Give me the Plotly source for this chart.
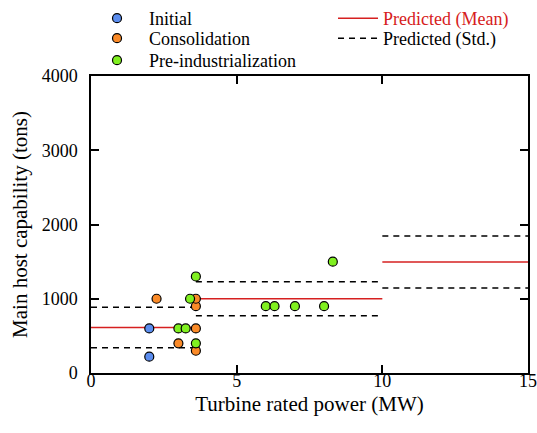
import plotly.graph_objects as go

# ---- data ----
initial_x = [2.0, 2.0]
initial_y = [600, 220]
consol_x = [2.25, 3.0, 3.6, 3.6, 3.6, 3.6]
consol_y = [1000, 400, 600, 900, 1000, 300]
preind_x = [3.0, 3.25, 3.4, 3.6, 3.6, 6.0, 6.3, 7.0, 8.0, 8.3]
preind_y = [600, 600, 1000, 1300, 400, 900, 900, 900, 900, 1500]

seg_start = [0, 3.6, 10]
seg_end = [3.6, 10, 15]
pred_mean = [612, 1000, 1495]
pred_std = [272, 230, 350]

# ---- build segment paths ----
mx, my = [], []
sx, sy = [], []
for a, b, m, s in zip(seg_start, seg_end, pred_mean, pred_std):
    mx += [a, b, None]
    my += [m, m, None]
    sx += [a, b, None, a, b, None]
    sy += [m + s, m + s, None, m - s, m - s, None]

RED = "#d62020"
FONT = "Liberation Serif, Times New Roman, serif"

fig = go.Figure()
fig.add_trace(go.Scatter(x=mx, y=my, mode="lines", name=f"<span style='color:{RED}'>Predicted (Mean)</span>",
                         line=dict(color=RED, width=1.5), legend="legend4"))
fig.add_trace(go.Scatter(x=sx, y=sy, mode="lines", name="Predicted (Std.)",
                         line=dict(color="black", width=1.5, dash="6px,5px"), legend="legend5"))

mk = dict(size=9, line=dict(color="black", width=1.2))
fig.add_trace(go.Scatter(x=initial_x, y=initial_y, mode="markers", name="Initial",
                         marker=dict(color="#5b8def", **mk), legend="legend"))
fig.add_trace(go.Scatter(x=consol_x, y=consol_y, mode="markers", name="Consolidation",
                         marker=dict(color="#fa8a28", **mk), legend="legend2"))
fig.add_trace(go.Scatter(x=preind_x, y=preind_y, mode="markers", name="Pre-industrialization",
                         marker=dict(color="#80f020", **mk), legend="legend3"))

axis_common = dict(showline=True, linecolor="black", linewidth=1.5, mirror="ticks",
                   ticks="inside", ticklen=8, tickwidth=1.5, tickcolor="black",
                   showgrid=False, zeroline=False, automargin=False,
                   tickfont=dict(family=FONT, size=18, color="black"))


def leg(x, y, iw, yref="container"):
    return dict(x=x, y=y, xref="paper", yref=yref, xanchor="left", yanchor="top",
                bgcolor="rgba(0,0,0,0)", font=dict(family=FONT, size=18), itemwidth=iw)


fig.update_layout(
    width=537, height=433,
    margin=dict(l=91, r=9, t=76, b=60),
    paper_bgcolor="white", plot_bgcolor="white",
    showlegend=True,
    font=dict(family=FONT, size=18, color="black"),
    xaxis=dict(range=[0, 15], dtick=5, tick0=0,
               title=dict(text="Turbine rated power (MW)", font=dict(family=FONT, size=21), standoff=6),
               ticklabelstandoff=-9, **axis_common),
    yaxis=dict(range=[0, 4000], dtick=1000, tick0=0,
               title=dict(text="Main host capability (tons)", font=dict(family=FONT, size=21), standoff=8),
               ticklabelstandoff=8, **axis_common),
    legend=leg(-0.0137, 1.0, 54),
    legend2=leg(-0.0137, 0.9538, 54),
    legend3=leg(-0.0137, 1.1145, 54, yref="paper"),
    legend4=leg(0.5538, 1.0, 40),
    legend5=leg(0.5538, 0.9538, 40),
)

fig.write_html("out.html")
